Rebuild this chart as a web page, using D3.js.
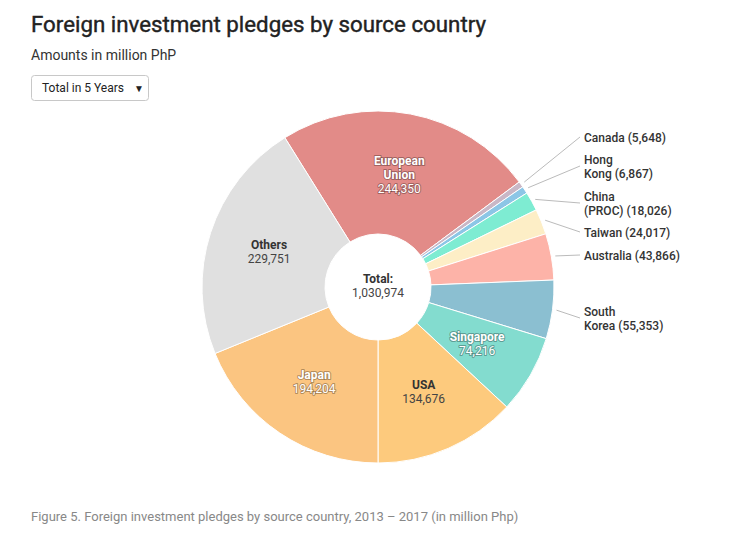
<!DOCTYPE html>
<html><head><meta charset="utf-8">
<script src="https://cdn.jsdelivr.net/npm/d3@7"></script>
<style>
body{margin:0;background:#fff;font-family:Roboto,"Noto Sans",sans-serif;}
</style></head>
<body>
<svg id="chart" width="743" height="539"></svg>
<script>
const categories = ["European Union","Canada","Hong Kong","China (PROC)","Taiwan","Australia","South Korea","Singapore","USA","Japan","Others"];
const values = [244350,5648,6867,18026,24017,43866,55353,74216,134676,194204,229751];
const colors = ["#e28b88","#c9b7c6","#8cc6e6","#7eecd2","#fdeec6","#fdb3a8","#8bbfd1","#83dccf","#fdca7d","#fbc581","#e0e0e0"];
const insideLabels = {
  "European Union": {lines:["European","Union"], white:true},
  "Singapore": {lines:["Singapore"], white:true},
  "USA": {lines:["USA"], white:false},
  "Japan": {lines:["Japan"], white:true},
  "Others": {lines:["Others"], white:false}
};
const outsideLabels = {
  "Canada": ["Canada (5,648)"],
  "Hong Kong": ["Hong","Kong (6,867)"],
  "China (PROC)": ["China","(PROC) (18,026)"],
  "Taiwan": ["Taiwan (24,017)"],
  "Australia": ["Australia (43,866)"],
  "South Korea": ["South","Korea (55,353)"]
};
const outsideLabelY = {"Canada":137,"Hong Kong":166,"China (PROC)":203,"Taiwan":232,"Australia":255,"South Korea":318};

const svg = d3.select("#chart");
const fmt = d3.format(",");

svg.append("text").attr("x",31).attr("y",32).attr("font-size",22.3).attr("font-weight",400)
  .attr("fill","#222").style("stroke","#222").style("stroke-width",0.4)
  .text("Foreign investment pledges by source country");
svg.append("text").attr("x",31).attr("y",60).attr("font-size",14).attr("fill","#333").text("Amounts in million PhP");
svg.append("rect").attr("x",31.5).attr("y",75.5).attr("width",117).attr("height",25).attr("rx",3)
  .attr("fill","#fff").attr("stroke","#c8c8c8");
svg.append("text").attr("x",42).attr("y",92).attr("font-size",12).attr("fill","#222").text("Total in 5 Years");
svg.append("text").attr("x",134).attr("y",92).attr("font-size",10).attr("fill","#222").text("▼");
svg.append("text").attr("x",31).attr("y",521).attr("font-size",13).attr("fill","#888")
  .text("Figure 5. Foreign investment pledges by source country, 2013 – 2017 (in million Php)");

const cx = 378, cy = 287, R = 176, r0 = 53;
const total = d3.sum(values);
const cumBeforeBottom = d3.sum(values.slice(0,9));
const start = Math.PI - cumBeforeBottom/total*2*Math.PI;

const data = categories.map((c,i)=>({name:c,value:values[i],color:colors[i]}));
const pie = d3.pie().value(d=>d.value).sort(null).startAngle(start).endAngle(start+2*Math.PI);
const arcs = pie(data);
const arc = d3.arc().innerRadius(r0).outerRadius(R);
const g = svg.append("g").attr("transform",`translate(${cx},${cy})`);

g.selectAll("path").data(arcs).enter().append("path")
  .attr("d",arc).attr("fill",d=>d.data.color).attr("stroke","#fff").attr("stroke-width",1);

const labelArc = d3.arc().innerRadius((r0+R)/2).outerRadius((r0+R)/2);
arcs.forEach(a=>{
  const info = insideLabels[a.data.name];
  if(!info) return;
  const [x,y] = labelArc.centroid(a);
  const lines = info.lines.concat([fmt(a.data.value)]);
  const lh = 14;
  const y0 = y - (lines.length-1)*lh/2 + 4;
  const t = g.append("text").attr("text-anchor","middle").attr("font-size",12);
  lines.forEach((l,i)=>{
    const ts = t.append("tspan").attr("x",x).attr("y",y0+i*lh).text(l);
    ts.attr("font-weight", i<lines.length-1 ? 700 : 400);
    if(!info.white && i===lines.length-1) ts.attr("fill","#444");
  });
  if(info.white){
    t.attr("fill","#fff").style("paint-order","stroke").attr("stroke","rgba(0,0,0,0.3)").attr("stroke-width",2).attr("stroke-linejoin","round");
  } else {
    t.attr("fill","#333");
  }
});

arcs.forEach(a=>{
  const lines = outsideLabels[a.data.name];
  if(!lines) return;
  const mid = (a.startAngle+a.endAngle)/2;
  const rs = R+4;
  const x1 = cx + rs*Math.sin(mid), y1 = cy - rs*Math.cos(mid);
  const ly = outsideLabelY[a.data.name];
  svg.append("line").attr("x1",x1).attr("y1",y1).attr("x2",580).attr("y2",ly)
    .attr("stroke","#bbb").attr("stroke-width",1);
  const lh = 14;
  const y0 = ly - (lines.length-1)*lh/2 + 5;
  const t = svg.append("text").attr("font-size",12).attr("font-weight",500).attr("fill","#333");
  lines.forEach((l,i)=>t.append("tspan").attr("x",584).attr("y",y0+i*lh).text(l));
});

g.append("text").attr("text-anchor","middle").attr("y",-4).attr("font-size",12).attr("font-weight",700).attr("fill","#333").text("Total:");
g.append("text").attr("text-anchor","middle").attr("y",10).attr("font-size",12).attr("fill","#444").text(fmt(total));
</script>
</body></html>
